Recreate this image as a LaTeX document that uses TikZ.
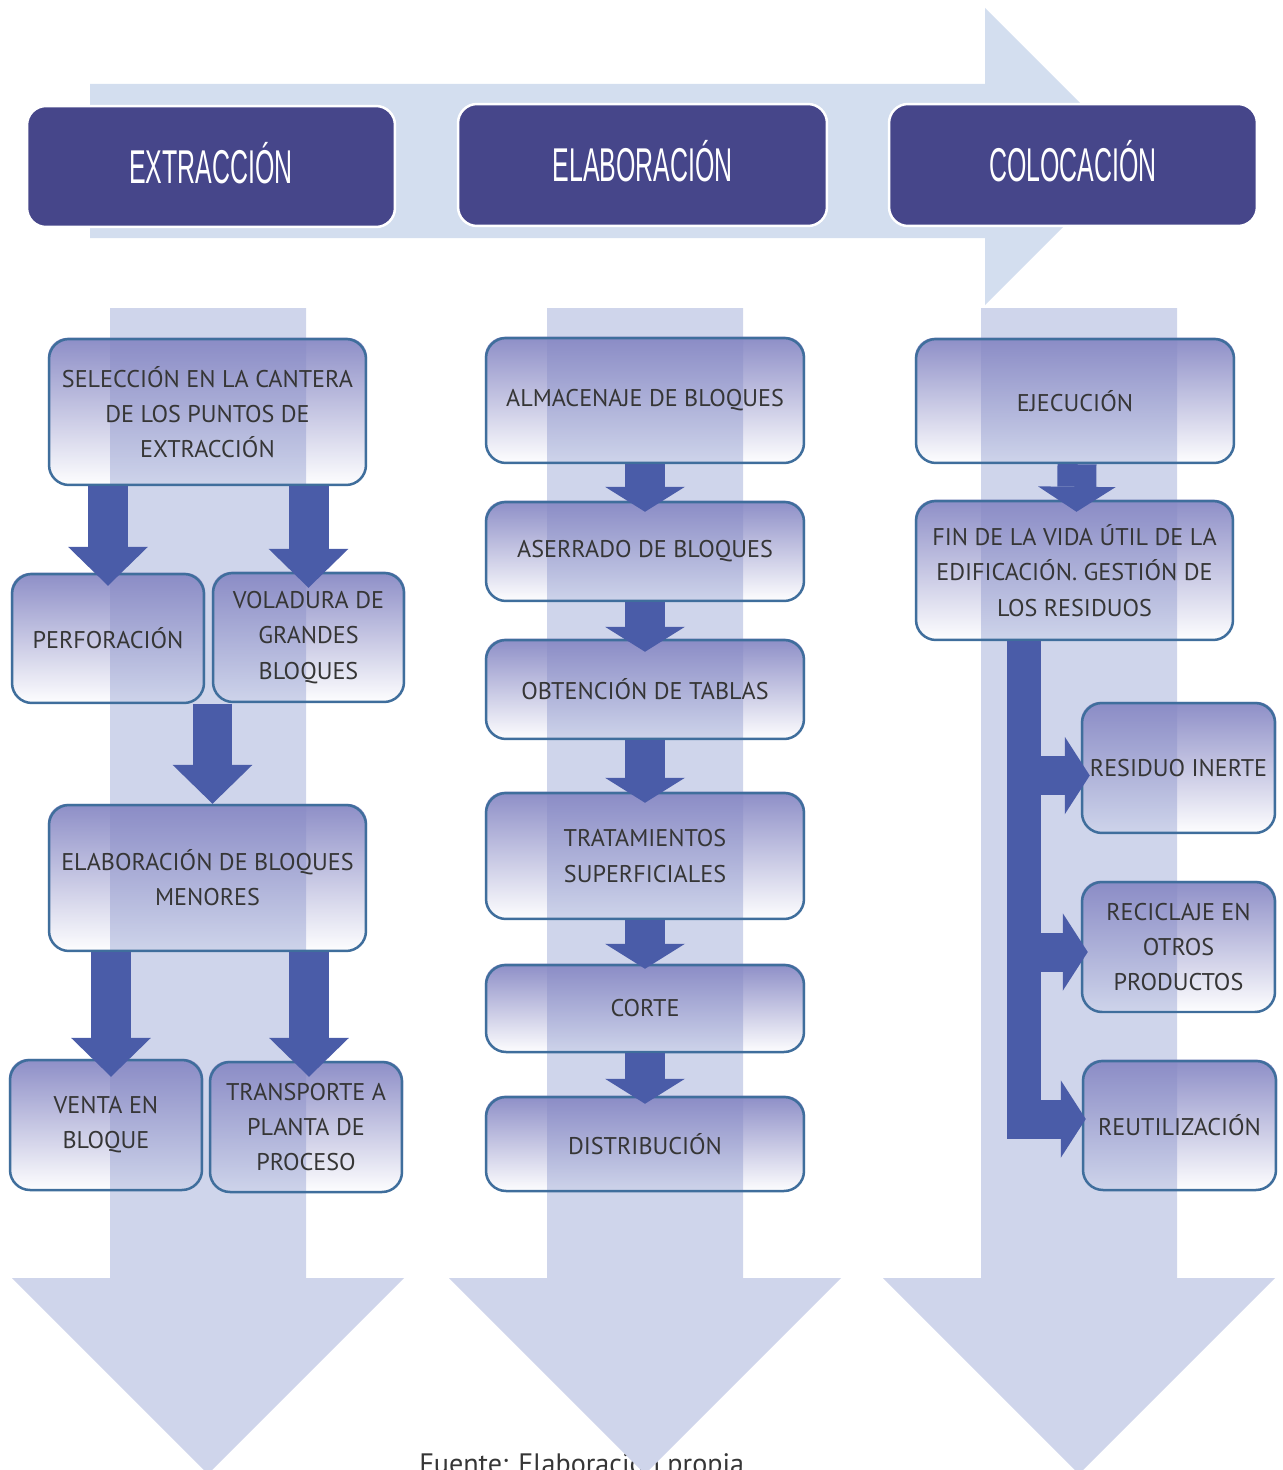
\documentclass[tikz,border=0pt]{standalone}
\usepackage{fontspec}
\setmainfont{PT Sans}
\newfontfamily\headfont[FakeStretch=0.525]{Liberation Sans}
\usetikzlibrary{arrows.meta,fadings}

\definecolor{cabecera}{HTML}{46468A}
\definecolor{bandaH}{HTML}{D3DEEF}
\definecolor{bandaV}{HTML}{CFD5EB}
\definecolor{borde}{HTML}{3F6E9C}
\definecolor{relleno}{HTML}{8788C4}
\definecolor{flecha}{HTML}{4A5CA8}
\definecolor{texto}{HTML}{363636}

\tikzfading[name=cajafade, top color=transparent!5, middle color=transparent!35, bottom color=transparent!100]

\pgfdeclarelayer{fondo}
\pgfsetlayers{fondo,main}

\begin{document}
\begin{tikzpicture}[x=0.02cm, y=-0.02cm,
    cabeza/.style={rectangle, rounded corners=0.38cm, fill=cabecera, draw=white, line width=0.05cm,
        text=white, inner sep=0pt, text height=19.3pt, text depth=0pt,
        font=\headfont\fontsize{27}{30}\selectfont},
    caja/.style={rectangle, rounded corners=0.4cm, draw=borde, line width=0.05cm, text=texto,
        inner sep=0pt, align=center, font=\fontsize{13.75}{20}\selectfont},
    flechaG/.style={draw=flecha, line width=0.8cm, -{Triangle[length=0.78cm, width=1.6cm, line width'=0pt]}},
    flechaM/.style={draw=flecha, line width=0.8cm, -{Triangle[length=0.5cm, width=1.6cm, line width'=0pt]}},
    flechaR/.style={draw=flecha, line width=0.78cm, -{Triangle[length=0.5cm, width=1.55cm, line width'=0pt]}}]

\useasboundingbox (0,0) rectangle (1283,1470);

%% cabeceras
\node[cabeza, minimum width=7.36cm, minimum height=2.42cm] (extr) at (211,166.5) {EXTRACCIÓN};
\node[cabeza, minimum width=7.38cm, minimum height=2.44cm] (elab) at (642.5,165) {ELABORACIÓN};
\node[cabeza, minimum width=7.36cm, minimum height=2.44cm] (colo) at (1073,165) {COLOCACIÓN};

%% extraccion
\node[caja, minimum width=6.34cm, minimum height=2.92cm] (sel) at (207.5,412) {SELECCIÓN EN LA CANTERA\\DE LOS PUNTOS DE\\EXTRACCIÓN};
\node[caja, minimum width=3.84cm, minimum height=2.58cm] (perf) at (108,638.5) {PERFORACIÓN};
\node[caja, minimum width=3.82cm, minimum height=2.58cm] (vol) at (308.5,637.5) {VOLADURA DE\\GRANDES\\BLOQUES};
\node[caja, minimum width=6.34cm, minimum height=2.92cm] (men) at (207.5,878) {ELABORACIÓN DE BLOQUES\\MENORES};
\node[caja, minimum width=3.84cm, minimum height=2.6cm] (venta) at (106,1125) {VENTA EN\\BLOQUE};
\node[caja, minimum width=3.84cm, minimum height=2.6cm] (trans) at (306,1127) {TRANSPORTE A\\PLANTA DE\\PROCESO};

%% elaboracion
\node[caja, minimum width=6.36cm, minimum height=2.5cm] (alm) at (645,400.5) {ALMACENAJE DE BLOQUES};
\node[caja, minimum width=6.36cm, minimum height=1.98cm] (ase) at (645,551.5) {ASERRADO DE BLOQUES};
\node[caja, minimum width=6.36cm, minimum height=1.98cm] (obt) at (645,689.5) {OBTENCIÓN DE TABLAS};
\node[caja, minimum width=6.36cm, minimum height=2.52cm] (trat) at (645,856) {TRATAMIENTOS\\SUPERFICIALES};
\node[caja, minimum width=6.36cm, minimum height=1.74cm] (corte) at (645,1008.5) {CORTE};
\node[caja, minimum width=6.36cm, minimum height=1.88cm] (dist) at (645,1144) {DISTRIBUCIÓN};

%% colocacion
\node[caja, minimum width=6.36cm, minimum height=2.48cm] (eje) at (1075,401) {EJECUCIÓN};
\node[caja, minimum width=6.34cm, minimum height=2.78cm] (fin) at (1074.5,570.5) {FIN DE LA VIDA ÚTIL DE LA\\EDIFICACIÓN. GESTIÓN DE\\LOS RESIDUOS};
\node[caja, minimum width=3.86cm, minimum height=2.6cm] (res) at (1178.5,768) {RESIDUO INERTE};
\node[caja, minimum width=3.86cm, minimum height=2.6cm] (rec) at (1178.5,947) {RECICLAJE EN\\OTROS\\PRODUCTOS};
\node[caja, minimum width=3.86cm, minimum height=2.58cm] (reu) at (1179.5,1125.5) {REUTILIZACIÓN};

\begin{pgfonlayer}{fondo}
    % fuente
    \node[anchor=base west, text=texto, inner sep=0pt, font=\fontsize{16}{18}\selectfont] (fuente) at (419,1473) {Fuente: Elaboración propia.};

    % flecha horizontal
    \fill[bandaH] (90,84) -- (985,84) -- (985,8) -- (1133.5,156.5) -- (985,305) -- (985,238) -- (90,238) -- cycle;

    % flechas verticales
    \foreach \c in {208,645,1079}
        \fill[bandaV] (\c-98,308) -- (\c+98,308) -- (\c+98,1278) -- (\c+196,1278)
            -- (\c,1474) -- (\c-196,1278) -- (\c-98,1278) -- cycle;

    % relleno de las cajas
    \foreach \n in {sel,perf,vol,men,venta,trans,alm,ase,obt,trat,corte,dist,eje,fin,res,rec,reu}
        \fill[relleno, path fading=cajafade, rounded corners=0.4cm] (\n.south west) rectangle (\n.north east);
\end{pgfonlayer}

%% flechas extraccion
\draw[flechaG] (sel.south -| perf.north) -- ([yshift=-0.26cm]perf.north);
\draw[flechaG] (sel.south -| vol.north) -- ([yshift=-0.32cm]vol.north);
\draw[flechaG] ([xshift=0.1cm]perf.south -| men.north) -- ([xshift=0.1cm]men.north);
\draw[flechaG] ([xshift=0.1cm]men.south -| venta.north) -- ([xshift=0.1cm, yshift=-0.36cm]venta.north);
\draw[flechaG] ([xshift=0.06cm]men.south -| trans.north) -- ([xshift=0.06cm, yshift=-0.32cm]trans.north);

%% flechas elaboracion
\draw[flechaM] (alm.south) -- ([yshift=-0.22cm]ase.north);
\draw[flechaM] (ase.south) -- ([yshift=-0.26cm]obt.north);
\draw[flechaM] (obt.south) -- ([yshift=-0.22cm]trat.north);
\draw[flechaM] (trat.south) -- ([yshift=-0.1cm]corte.north);
\draw[flechaM] (corte.south) -- ([yshift=-0.16cm]dist.north);

%% flechas colocacion
\draw[flechaR] ([xshift=0.04cm]eje.south) -- ([xshift=0.04cm, yshift=-0.24cm]fin.north);
\coordinate (tronco) at ([xshift=-1.01cm]fin.south);
\coordinate (pie) at ([yshift=-9.96cm]tronco);
\draw[draw=flecha, line width=0.68cm] (tronco) -- (pie);
\draw[flechaR] ([yshift=-0.15cm]tronco |- res.west) -- ([xshift=0.18cm, yshift=-0.15cm]res.west);
\draw[flechaR] ([yshift=-0.1cm]tronco |- rec.west) -- ([xshift=0.14cm, yshift=-0.1cm]rec.west);
\draw[flechaR] ([yshift=0.13cm]tronco |- reu.west) -- ([xshift=0.08cm, yshift=0.13cm]reu.west);

\end{tikzpicture}
\end{document}
